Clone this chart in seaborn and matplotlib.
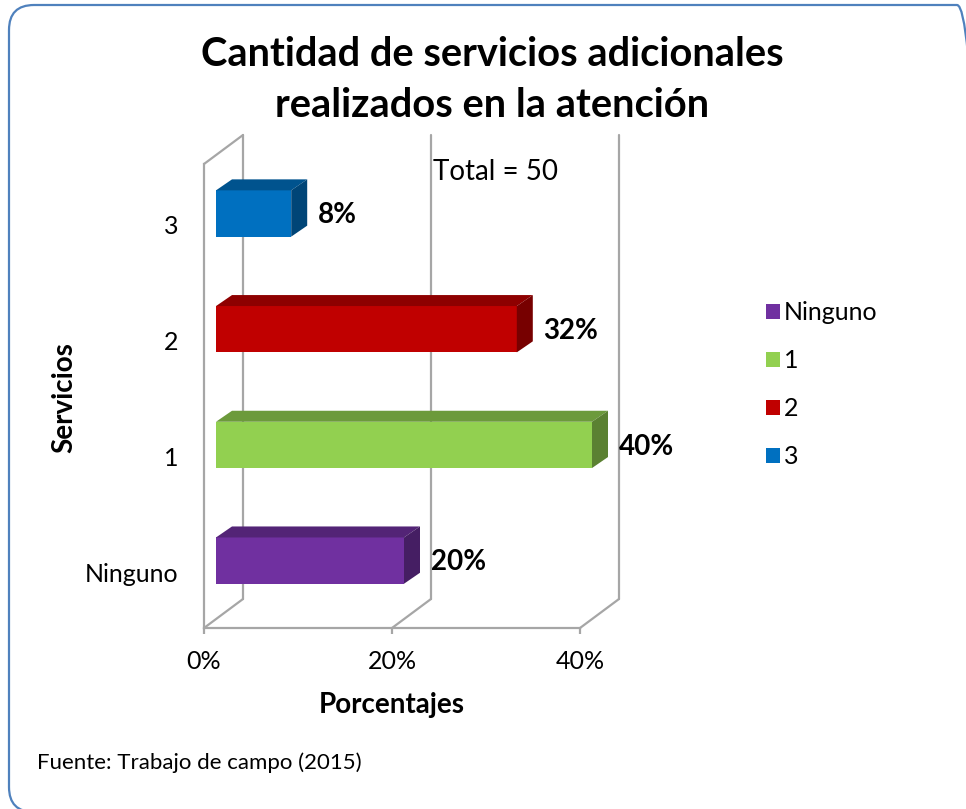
import numpy as np
import pandas as pd
import seaborn as sns
import matplotlib
matplotlib.use("Agg")
import matplotlib.pyplot as plt
from matplotlib.patches import Polygon, Patch, FancyBboxPatch
from matplotlib.transforms import Affine2D

# ---- data ----
categories = ["Ninguno", "1", "2", "3"]
percentages = [20, 40, 32, 8]
colors = ["#7030A0", "#92D050", "#C00000", "#0070C0"]
x_ticks = [0, 20, 40]
x_tick_labels = ["0%", "20%", "40%"]
title_text = "Cantidad de servicios adicionales\nrealizados en la atención"
total_text = "Total = 50"
source_text = "Fuente: Trabajo de campo (2015)"

sns.set_style("white")
plt.rcParams["font.family"] = ["Lato", "DejaVu Sans"]
plt.rcParams["text.color"] = "black"
plt.rcParams["axes.labelcolor"] = "black"

W, H = 966, 809
fig = plt.figure(figsize=(W / 100, H / 100), dpi=100)

# axes: pixel box left 150, right 680, top 100, bottom 650
ax = fig.add_axes([150 / W, (H - 650) / H, 530 / W, 550 / H])

PXX = 9.4     # px per percent
PXY = 115.7   # px per category

order = categories[::-1]
df = pd.DataFrame({"Servicios": categories, "Porcentaje": percentages})
pal = dict(zip(categories, colors))
sns.barplot(data=df, x="Porcentaje", y="Servicios", order=order,
            hue="Servicios", hue_order=categories, palette=pal,
            width=0.4, orient="h", legend=False, ax=ax, saturation=1,
            errorbar=None, linewidth=0, edgecolor="none")
bars = list(ax.patches)

ax.set_xlim((150 - 204) / PXX, (680 - 204) / PXX)
ax.set_ylim((650 - 225) / PXY, (100 - 225) / PXY)

FLOOR = (628 - 225) / PXY
TOP = (164 - 225) / PXY
DX = 39 / PXX
DY = -29 / PXY
gray = "#A6A6A6"
lw = 1.6

# walls / floor
ax.plot([0, DX], [TOP, TOP + DY], color=gray, lw=lw, zorder=0.5)
ax.plot([0, DX], [FLOOR, FLOOR + DY], color=gray, lw=lw, zorder=0.5)
for t in x_ticks:
    ax.plot([t + DX, t + DX], [FLOOR + DY, TOP + DY], color=gray, lw=lw, zorder=0.5)
for t in x_ticks[1:]:
    ax.plot([t, t + DX], [FLOOR, FLOOR + DY], color=gray, lw=lw, zorder=0.5)

# 3D bars
FX, FY = 12 / PXX, -11.5 / PXY
BX, BY = 16 / PXX, -11 / PXY


def shade(c, f):
    r, g, b, a = c
    return (r * f, g * f, b * f, 1)


for p in bars:
    x0, y0, w, h = p.get_x(), p.get_y(), p.get_width(), p.get_height()
    fc = p.get_facecolor()
    p.set_transform(Affine2D().translate(FX, FY) + ax.transData)
    p.set_zorder(3)
    top = [(x0 + FX, y0 + FY), (x0 + w + FX, y0 + FY),
           (x0 + w + FX + BX, y0 + FY + BY), (x0 + FX + BX, y0 + FY + BY)]
    side = [(x0 + w + FX, y0 + FY), (x0 + w + FX + BX, y0 + FY + BY),
            (x0 + w + FX + BX, y0 + h + FY + BY), (x0 + w + FX, y0 + h + FY)]
    ax.add_patch(Polygon(top, closed=True, facecolor=shade(fc, 0.74), edgecolor="none", zorder=3))
    ax.add_patch(Polygon(side, closed=True, facecolor=shade(fc, 0.62), edgecolor="none", zorder=3))

# value labels
for cat, val in zip(categories, percentages):
    k = order.index(cat)
    ax.text(val + 4.1, k - 0.085, f"{val}%", fontsize=20, fontweight="bold",
            va="center", ha="left", zorder=5, color="black")

ax.text((433 - 204) / PXX, (172 - 225) / PXY, total_text, fontsize=20,
        va="center", ha="left", zorder=5, color="black")

# spines and ticks
for s in ["top", "right"]:
    ax.spines[s].set_visible(False)
ax.spines["bottom"].set_position(("data", FLOOR))
ax.spines["bottom"].set_bounds(0, 40)
ax.spines["left"].set_position(("data", 0))
ax.spines["left"].set_bounds(TOP, FLOOR)
for s in ["bottom", "left"]:
    ax.spines[s].set_color(gray)
    ax.spines[s].set_linewidth(lw)
    ax.spines[s].set_zorder(0.5)

ax.set_xticks(x_ticks)
ax.set_xticklabels(x_tick_labels)
ax.tick_params(axis="x", bottom=True, length=4.5, width=lw, color=gray,
               direction="out", pad=11, labelsize=18, labelcolor="black")
ax.tick_params(axis="y", left=False, length=0, pad=18.5, labelsize=18,
               labelcolor="black")

ax.set_xlabel("Porcentajes", fontsize=20, fontweight="bold", color="black")
ax.set_ylabel("Servicios", fontsize=20, fontweight="bold", color="black")
ax.xaxis.label.set_va("center")
ax.yaxis.label.set_va("center")
ax.xaxis.set_label_coords((392 - 150) / 530, (650 - 705) / 550)
ax.yaxis.set_label_coords((64 - 150) / 530, (650 - 398) / 550)

# legend
handles = [Patch(facecolor=c, edgecolor="none", label=cat) for cat, c in zip(categories, colors)]
leg = ax.legend(handles=handles, loc="upper left", bbox_to_anchor=(766 / W, 1 - 301 / H),
                bbox_transform=fig.transFigure, frameon=False, fontsize=18,
                handlelength=0.55, handleheight=0.55, handletextpad=0.15,
                labelspacing=1.0, borderpad=0, borderaxespad=0)
for t in leg.get_texts():
    t.set_color("black")

# title & source
fig.text(492 / W, 1 - 80 / H, title_text, fontsize=28.7, fontweight="bold",
         ha="center", va="center", linespacing=1.45, color="black")
fig.text(37 / W, 1 - 763 / H, source_text, fontsize=16, ha="left", va="center",
         color="black")

# outer rounded border
border = FancyBboxPatch((0.09, -0.03), 9.73, 8.07,
                        boxstyle="round,pad=0,rounding_size=0.25",
                        transform=fig.dpi_scale_trans, facecolor="none",
                        edgecolor="#4F81BD", linewidth=1.6, clip_on=False)
fig.patches.append(border)

fig.savefig("out.png", dpi=100)
